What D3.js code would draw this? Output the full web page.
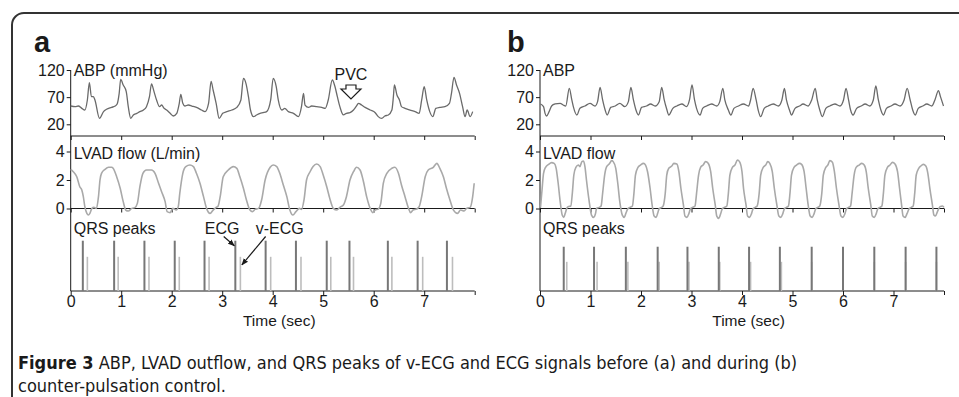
<!DOCTYPE html>
<html><head><meta charset="utf-8">
<script src="https://cdn.jsdelivr.net/npm/d3@7"></script>
<style>body{margin:0;background:#fff}svg{display:block}text{font-family:"Liberation Sans",Arial,sans-serif;fill:#1a1a1a}</style>
</head><body><svg id="c" width="959" height="397"></svg>
<script>
// ---------- data ----------
const timeTicks = [0,1,2,3,4,5,6,7,8];
const timeTickLabels = ["0","1","2","3","4","5","6","7",""];
const abpTicks = [20,70,120];
const lvadTicks = [0,2,4];

// panel a (before control): [time s, ABP mmHg]
const abpA = [[0.00,53.7],[0.09,52.5],[0.15,53.7],[0.22,49.4],[0.28,46.3],[0.33,64.8],[0.37,96.7],[0.41,70.9],[0.45,70.9],[0.48,64.8],[0.57,31.0],[0.65,43.3],[0.71,47.6],[0.81,51.2],[0.88,53.7],[0.92,57.4],[0.96,77.0],[0.99,102.8],[1.04,92.4],[1.10,80.1],[1.14,52.5],[1.19,31.0],[1.24,37.2],[1.31,40.2],[1.37,43.3],[1.44,46.3],[1.50,52.5],[1.56,70.9],[1.60,94.2],[1.65,80.1],[1.70,64.8],[1.76,52.5],[1.80,55.5],[1.85,49.4],[1.90,46.3],[1.97,40.2],[2.03,35.3],[2.10,40.2],[2.15,58.6],[2.18,75.2],[2.22,58.6],[2.26,53.7],[2.33,55.5],[2.40,53.7],[2.49,51.2],[2.59,46.3],[2.66,43.3],[2.73,58.6],[2.78,99.1],[2.82,83.2],[2.88,58.6],[2.94,31.0],[3.01,40.2],[3.09,43.3],[3.19,46.3],[3.29,51.2],[3.37,64.8],[3.42,104.6],[3.47,95.5],[3.52,70.9],[3.56,46.3],[3.62,34.1],[3.68,37.2],[3.75,40.2],[3.81,41.4],[3.88,43.3],[3.96,64.8],[4.01,104.6],[4.07,89.3],[4.11,64.8],[4.18,46.3],[4.24,49.4],[4.31,43.3],[4.41,40.2],[4.51,34.1],[4.57,52.5],[4.61,77.0],[4.64,55.5],[4.71,51.2],[4.77,53.7],[4.87,52.5],[4.97,51.2],[5.04,49.4],[5.10,64.8],[5.18,101.6],[5.23,90.5],[5.28,70.9],[5.33,52.5],[5.40,37.2],[5.46,40.2],[5.53,41.4],[5.60,46.3],[5.65,52.5],[5.70,58.6],[5.76,55.5],[5.83,51.2],[5.93,46.3],[6.03,41.4],[6.09,34.1],[6.16,31.0],[6.22,35.3],[6.29,37.2],[6.36,46.3],[6.39,70.9],[6.41,92.4],[6.46,74.0],[6.51,64.8],[6.55,52.5],[6.62,49.4],[6.72,46.3],[6.82,43.3],[6.90,40.2],[6.95,64.8],[7.00,89.3],[7.05,64.8],[7.11,43.3],[7.17,34.1],[7.23,49.4],[7.31,51.2],[7.41,52.5],[7.50,58.6],[7.54,77.0],[7.59,106.5],[7.64,92.4],[7.70,77.0],[7.76,52.5],[7.81,34.1],[7.85,46.3],[7.91,34.1],[7.96,43.3]];

// panel a: [time s, LVAD flow L/min]
const lvadA = [[0.00,2.75],[0.05,2.58],[0.12,2.23],[0.18,1.53],[0.22,1.30],[0.25,0.83],[0.28,0.13],[0.32,-0.34],[0.35,-0.46],[0.38,-0.34],[0.42,0.01],[0.46,0.08],[0.51,0.01],[0.55,0.83],[0.58,2.00],[0.61,2.47],[0.68,2.75],[0.75,2.89],[0.81,2.89],[0.84,2.82],[0.91,2.23],[0.98,1.42],[1.04,0.48],[1.09,-0.11],[1.14,-0.18],[1.21,0.01],[1.27,0.06],[1.32,0.36],[1.37,1.53],[1.43,2.47],[1.50,2.70],[1.60,2.70],[1.67,2.47],[1.74,1.77],[1.80,1.18],[1.87,0.48],[1.91,-0.22],[1.97,-0.29],[2.02,0.01],[2.09,-0.11],[2.13,0.13],[2.16,1.06],[2.22,2.47],[2.28,2.94],[2.36,3.05],[2.43,2.94],[2.49,2.47],[2.56,1.77],[2.63,0.83],[2.69,0.01],[2.76,-0.34],[2.82,-0.11],[2.88,0.08],[2.92,0.18],[2.96,0.83],[3.02,2.23],[3.12,2.70],[3.22,2.94],[3.29,2.82],[3.35,2.23],[3.42,1.42],[3.48,0.60],[3.55,-0.11],[3.60,-0.22],[3.65,-0.06],[3.72,0.01],[3.78,0.60],[3.85,2.00],[3.95,2.89],[4.01,3.05],[4.08,2.94],[4.14,2.47],[4.21,1.65],[4.28,0.83],[4.34,-0.11],[4.40,-0.46],[4.46,-0.22],[4.53,0.01],[4.57,-0.06],[4.62,0.60],[4.67,2.00],[4.74,2.58],[4.80,2.94],[4.87,3.12],[4.94,2.94],[5.00,2.35],[5.07,1.53],[5.13,0.71],[5.20,0.01],[5.27,-0.11],[5.33,0.08],[5.40,0.25],[5.46,0.83],[5.53,2.00],[5.60,2.58],[5.66,2.89],[5.73,2.70],[5.79,2.00],[5.86,0.83],[5.93,0.01],[5.98,-0.29],[6.03,-0.11],[6.09,-0.04],[6.14,0.36],[6.19,1.77],[6.26,2.47],[6.36,2.82],[6.42,2.89],[6.49,2.47],[6.55,1.65],[6.62,0.83],[6.69,0.01],[6.73,-0.29],[6.78,-0.11],[6.85,-0.04],[6.90,0.13],[6.95,0.83],[7.02,2.23],[7.08,2.70],[7.18,2.89],[7.25,3.17],[7.31,2.82],[7.38,2.23],[7.44,1.42],[7.51,0.60],[7.58,-0.11],[7.66,-0.34],[7.72,-0.11],[7.79,-0.18],[7.84,0.01],[7.91,0.08],[7.96,0.83],[7.99,1.77]];

// panel a QRS peak times (s) and relative heights
const ecgA  = [0.24,0.86,1.46,2.06,2.65,3.26,3.86,4.46,5.07,5.52,6.28,6.87,7.45];
const vecgA = [0.33,0.94,1.55,2.15,2.74,3.36,3.96,4.56,5.15,5.60,6.36,6.97,7.56];
const ecgAmpA = 1.0, vecgAmpA = 0.68;

// panel b (during counter-pulsation)
const abpB = [[0.01,57.4],[0.07,52.5],[0.10,40.2],[0.13,35.3],[0.18,43.3],[0.23,53.7],[0.30,57.4],[0.40,58.6],[0.46,55.5],[0.51,53.7],[0.58,86.2],[0.63,64.8],[0.66,52.5],[0.73,37.1],[0.79,49.4],[0.89,53.7],[0.99,58.6],[1.09,53.7],[1.14,61.7],[1.19,88.1],[1.24,64.8],[1.29,46.3],[1.33,37.1],[1.40,51.2],[1.49,53.7],[1.58,58.6],[1.68,52.5],[1.75,61.7],[1.80,88.1],[1.85,64.8],[1.90,46.3],[1.95,37.1],[2.01,51.2],[2.11,53.7],[2.19,57.4],[2.28,53.7],[2.36,61.7],[2.41,88.1],[2.46,64.8],[2.51,47.6],[2.55,37.1],[2.63,49.4],[2.71,53.7],[2.81,57.4],[2.90,52.5],[2.96,64.8],[3.01,92.4],[3.06,64.8],[3.10,49.4],[3.17,37.1],[3.22,49.4],[3.30,53.7],[3.40,57.4],[3.50,53.7],[3.56,61.7],[3.62,86.2],[3.66,64.8],[3.73,46.3],[3.78,37.1],[3.84,49.4],[3.93,53.7],[4.03,57.4],[4.13,53.7],[4.17,64.8],[4.22,86.2],[4.28,64.8],[4.32,46.3],[4.37,34.1],[4.44,49.4],[4.52,53.7],[4.62,57.4],[4.72,53.7],[4.79,64.8],[4.84,86.2],[4.88,64.8],[4.94,46.3],[4.98,37.1],[5.05,49.4],[5.14,53.7],[5.21,57.4],[5.31,53.7],[5.38,64.8],[5.45,86.2],[5.49,64.8],[5.54,46.3],[5.59,34.1],[5.66,49.4],[5.74,53.7],[5.84,57.4],[5.94,53.7],[6.01,64.8],[6.06,86.2],[6.11,64.8],[6.15,46.3],[6.20,37.1],[6.27,49.4],[6.36,53.7],[6.44,57.4],[6.53,53.7],[6.60,64.8],[6.65,90.5],[6.70,64.8],[6.75,46.3],[6.80,37.1],[6.86,49.4],[6.95,53.7],[7.03,57.4],[7.13,53.7],[7.21,64.8],[7.27,86.2],[7.33,64.8],[7.38,46.3],[7.43,37.1],[7.49,49.4],[7.58,53.7],[7.66,57.4],[7.76,53.7],[7.82,64.8],[7.89,81.9],[7.93,70.9],[7.99,53.7]];

const lvadB = [[0.01,0.08],[0.04,1.30],[0.07,2.47],[0.11,2.89],[0.17,3.10],[0.23,3.22],[0.28,3.17],[0.32,2.82],[0.36,1.77],[0.40,0.48],[0.44,-0.46],[0.47,-0.62],[0.50,-0.34],[0.53,0.01],[0.56,0.13],[0.61,0.18],
[0.64,1.06],[0.67,2.35],[0.71,2.89],[0.76,3.05],[0.79,2.94],[0.83,3.29],[0.86,3.33],[0.89,2.94],[0.92,2.00],[0.97,0.60],[1.02,-0.46],[1.06,-0.62],[1.10,-0.34],[1.12,0.01],[1.17,0.08],[1.21,0.18],
[1.24,1.06],[1.28,2.35],[1.32,2.94],[1.37,3.12],[1.42,3.36],[1.45,3.29],[1.50,2.82],[1.54,1.77],[1.58,0.48],[1.63,-0.46],[1.67,-0.62],[1.70,-0.34],[1.74,-0.01],[1.78,0.08],[1.83,0.18],
[1.86,1.06],[1.89,2.35],[1.94,2.89],[1.99,3.05],[2.05,3.17],[2.09,3.05],[2.13,2.58],[2.18,1.42],[2.22,0.25],[2.26,-0.53],[2.30,-0.62],[2.33,-0.34],[2.36,-0.01],[2.41,0.08],[2.44,0.18],
[2.48,1.06],[2.51,2.35],[2.55,2.82],[2.61,2.98],[2.65,3.17],[2.71,3.12],[2.75,2.58],[2.79,1.42],[2.84,0.25],[2.87,-0.53],[2.91,-0.62],[2.95,-0.34],[2.98,-0.01],[3.02,0.08],[3.07,0.18],
[3.10,1.06],[3.14,2.35],[3.18,2.89],[3.23,3.05],[3.28,3.29],[3.33,3.17],[3.38,2.58],[3.42,1.42],[3.47,0.25],[3.50,-0.53],[3.54,-0.69],[3.58,-0.34],[3.61,-0.01],[3.65,0.08],[3.70,0.18],
[3.73,1.06],[3.76,2.35],[3.81,2.89],[3.86,3.05],[3.91,3.40],[3.95,3.29],[4.00,2.58],[4.03,1.42],[4.08,0.25],[4.11,-0.53],[4.15,-0.62],[4.19,-0.34],[4.22,-0.01],[4.26,0.08],[4.30,0.18],
[4.34,1.06],[4.37,2.35],[4.42,2.89],[4.47,3.05],[4.51,3.29],[4.55,3.17],[4.60,2.58],[4.64,1.42],[4.69,0.25],[4.73,-0.53],[4.77,-0.62],[4.81,-0.34],[4.84,-0.01],[4.88,0.08],[4.92,0.18],
[4.95,1.06],[4.98,2.35],[5.03,2.89],[5.08,3.05],[5.14,3.17],[5.18,3.10],[5.23,2.58],[5.27,1.42],[5.31,0.25],[5.35,-0.53],[5.39,-0.62],[5.43,-0.34],[5.46,-0.01],[5.50,0.08],[5.54,0.18],
[5.58,1.06],[5.61,2.35],[5.66,2.89],[5.70,3.05],[5.74,3.36],[5.79,3.24],[5.83,2.58],[5.87,1.42],[5.92,0.25],[5.96,-0.53],[6.00,-0.62],[6.04,-0.34],[6.07,-0.01],[6.11,0.08],[6.15,0.18],
[6.18,1.06],[6.22,2.35],[6.26,2.89],[6.32,3.05],[6.37,3.17],[6.42,3.05],[6.46,2.58],[6.50,1.42],[6.55,0.25],[6.58,-0.53],[6.62,-0.62],[6.66,-0.34],[6.69,-0.01],[6.73,0.08],[6.77,0.18],
[6.80,1.06],[6.83,2.35],[6.88,2.89],[6.93,3.05],[6.98,3.24],[7.03,3.12],[7.08,2.58],[7.12,1.42],[7.16,0.25],[7.19,-0.53],[7.23,-0.62],[7.27,-0.34],[7.31,-0.01],[7.35,0.08],[7.39,0.18],
[7.42,1.06],[7.45,2.35],[7.50,2.82],[7.54,2.98],[7.59,3.10],[7.64,2.98],[7.68,2.47],[7.72,1.42],[7.77,0.25],[7.80,-0.46],[7.83,-0.53],[7.87,-0.22],[7.92,0.13],[7.97,0.18],[8.00,0.08]];

const ecgB  = [0.47,1.07,1.70,2.33,2.92,3.54,4.14,4.75,5.38,6.00,6.62,7.24,7.85];
const vecgB = [0.53,1.13,1.74,2.36,2.95,3.56,4.17,4.78,5.38,6.00,6.62,7.24,7.85];
const ecgAmpB = 0.88, vecgAmpB = 0.58;

const captionBold = "Figure 3";
const captionRest = " ABP, LVAD outflow, and QRS peaks of v-ECG and ECG signals before (a) and during (b)";
const captionLine2 = "counter-pulsation control.";

// ---------- drawing ----------
const svg = d3.select("#c");
const INK = "#1a1a1a";
const FONT = '"Liberation Sans",Arial,sans-serif';

// frame
svg.append("path").attr("d","M12,397 V25 A12,12 0 0 1 24,13 H959")
  .attr("fill","none").attr("stroke","#333").attr("stroke-width",2);

const defs = svg.append("defs");
defs.append("marker").attr("id","ah").attr("viewBox","0 0 10 10").attr("refX",9).attr("refY",5)
  .attr("markerWidth",7).attr("markerHeight",7).attr("markerUnits","userSpaceOnUse").attr("orient","auto")
  .append("path").attr("d","M0,1 L10,5 L0,9 z").attr("fill",INK);

const yABP  = d3.scaleLinear([20,120],[124.3,70]);
const yLVAD = d3.scaleLinear([0,4],[208.5,151.5]);
const yQRS  = d3.scaleLinear([0,1],[291,240.7]);
const ABP_BASE = 136;

function styleAxis(g){
  g.selectAll("path.domain").remove();
  g.selectAll("line").attr("stroke",INK);
  g.selectAll("text").attr("font-size",16).attr("font-family",FONT).attr("fill",INK);
}

function panel(o){
  const x = d3.scaleLinear([0,8],o.range);
  const g = svg.append("g");
  const x0 = x(0), x8 = x(8);

  g.append("line").attr("x1",x0).attr("x2",x0).attr("y1",yABP(120)).attr("y2",yQRS(0)).attr("stroke",INK);
  [ABP_BASE, yLVAD(0), yQRS(0)].forEach(y=>{
    g.append("line").attr("x1",x0).attr("x2",x8).attr("y1",y).attr("y2",y).attr("stroke",INK);
  });

  [ABP_BASE, yLVAD(0)].forEach(y=>{
    g.append("g").attr("transform",`translate(0,${y})`)
      .call(d3.axisBottom(x).tickValues(timeTicks).tickFormat("").tickSize(4).tickSizeOuter(0)).call(styleAxis);
  });
  g.append("g").attr("transform",`translate(0,${yQRS(0)})`)
    .call(d3.axisBottom(x).tickValues(timeTicks).tickFormat((d,i)=>timeTickLabels[i]).tickSize(4).tickPadding(1).tickSizeOuter(0))
    .call(styleAxis);

  g.append("g").attr("transform",`translate(${x0},0)`)
    .call(d3.axisLeft(yABP).tickValues(abpTicks).tickFormat(d3.format("d")).tickSize(4).tickPadding(2)).call(styleAxis);
  g.append("g").attr("transform",`translate(${x0},0)`)
    .call(d3.axisLeft(yLVAD).tickValues(lvadTicks).tickFormat(d3.format("d")).tickSize(4).tickPadding(2)).call(styleAxis);

  g.append("path").datum(o.abp)
    .attr("d", d3.line().x(d=>x(d[0])).y(d=>yABP(d[1])).curve(d3.curveMonotoneX))
    .attr("fill","none").attr("stroke","#6a6a6a").attr("stroke-width",1.3).attr("stroke-linejoin","round");
  g.append("path").datum(o.lvad)
    .attr("d", d3.line().x(d=>x(d[0])).y(d=>yLVAD(d[1])).curve(d3.curveMonotoneX))
    .attr("fill","none").attr("stroke","#a9a9a9").attr("stroke-width",1.6).attr("stroke-linejoin","round");

  g.selectAll(null).data(o.vecg).join("line")
    .attr("x1",d=>x(d)).attr("x2",d=>x(d)).attr("y1",yQRS(0)).attr("y2",yQRS(o.vAmp))
    .attr("stroke","#bdbdbd").attr("stroke-width",1.6);
  g.selectAll(null).data(o.ecg).join("line")
    .attr("x1",d=>x(d)).attr("x2",d=>x(d)).attr("y1",yQRS(0)).attr("y2",yQRS(o.eAmp))
    .attr("stroke","#777").attr("stroke-width",2);

  const lab = (t,xx,yy)=>g.append("text").attr("x",xx).attr("y",yy).attr("font-size",16).text(t);
  lab(o.abpLabel, x0+3, 76);
  lab(o.lvadLabel, x0+3, 158.5);
  lab("QRS peaks", x0+3, 234);
  lab("Time (sec)", x(4.13), 325.5).attr("text-anchor","middle").attr("font-size",15.5);
  g.append("text").attr("x",o.tagX).attr("y",52).attr("font-size",29).attr("font-weight","bold").text(o.tag);
  return x;
}

const xA = panel({range:[70.7,474.7], abp:abpA, lvad:lvadA, ecg:ecgA, vecg:vecgA, eAmp:ecgAmpA, vAmp:vecgAmpA,
  abpLabel:"ABP (mmHg)", lvadLabel:"LVAD flow (L/min)", tag:"a", tagX:34});
const xB = panel({range:[540,944], abp:abpB, lvad:lvadB, ecg:ecgB, vecg:vecgB, eAmp:ecgAmpB, vAmp:vecgAmpB,
  abpLabel:"ABP", lvadLabel:"LVAD flow", tag:"b", tagX:507});

// annotations panel a
svg.append("text").attr("x",xA(3.0)).attr("y",234).attr("font-size",16).attr("text-anchor","middle").text("ECG");
svg.append("text").attr("x",xA(4.14)).attr("y",234).attr("font-size",16).attr("text-anchor","middle").text("v-ECG");
svg.append("line").attr("x1",xA(3.03)).attr("y1",236.5).attr("x2",xA(ecgA[5])-1).attr("y2",yQRS(0.9))
  .attr("stroke",INK).attr("stroke-width",1.2).attr("marker-end","url(#ah)");
svg.append("line").attr("x1",xA(3.86)).attr("y1",236.5).attr("x2",xA(vecgA[5])+1.5).attr("y2",yQRS(0.52))
  .attr("stroke",INK).attr("stroke-width",1.2).attr("marker-end","url(#ah)");

const pvcX = xA(5.55);
svg.append("text").attr("x",pvcX).attr("y",80).attr("font-size",16).attr("text-anchor","middle").text("PVC");
svg.append("path")
  .attr("d",`M${pvcX-5},85 H${pvcX+5} V89 H${pvcX+10} L${pvcX},99 L${pvcX-10},89 H${pvcX-5} Z`)
  .attr("fill","#fff").attr("stroke",INK).attr("stroke-width",1.2).attr("stroke-linejoin","miter");

// caption
const CAPFONT = '"Liberation Sans Narrow","DejaVu Sans Condensed",sans-serif';
const cap = svg.append("text").attr("x",18).attr("y",369).attr("font-size",18).style("font-family",CAPFONT);
cap.append("tspan").attr("font-weight","bold").text(captionBold);
cap.append("tspan").text(captionRest);
svg.append("text").attr("x",18).attr("y",392).attr("font-size",18).style("font-family",CAPFONT).text(captionLine2);
</script>
</body></html>
